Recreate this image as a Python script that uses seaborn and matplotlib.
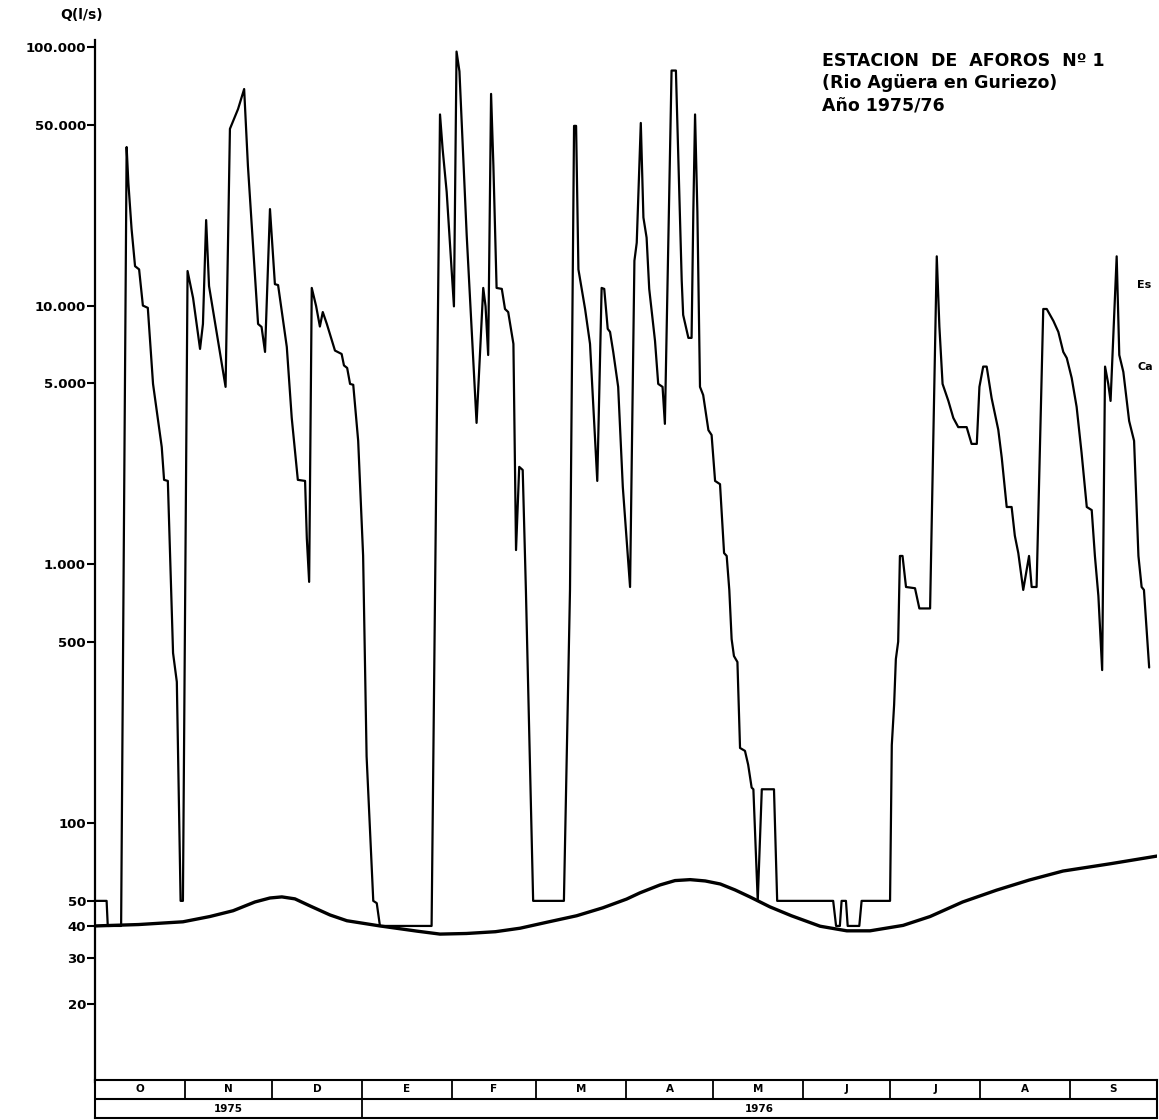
import numpy as np
import pandas as pd
import seaborn as sns
import matplotlib.pyplot as plt

# Daily discharge, hydrological year Oct 1975 - Sep 1976 (day 0 = 1 Oct 1975)
dias = [0, 4.0, 4.4, 9.0, 10.9, 11.5, 12.6, 13.8, 15.2, 16.5,
        18.2, 20.0, 23.0, 23.8, 25.1, 26.9, 28.2, 29.5, 30.3, 31.9,
        33.8, 36.2, 37.2, 38.3, 39.3, 45.0, 46.5, 49.3, 51.4, 52.7,
        56.2, 57.4, 58.6, 60.3, 60.9, 62.0, 63.1, 66.1, 67.8, 69.9,
        72.4, 73.0, 73.8, 74.7, 76.2, 77.5, 78.5, 79.9, 82.7, 85.0,
        85.8, 86.9, 87.9, 89.0, 90.7, 92.4, 93.6, 95.9, 97.1, 98.2,
        116.0, 118.9, 119.8, 121.2, 122.3, 123.7, 124.6, 125.6, 128.1, 131.5,
        133.8, 134.6, 135.5, 136.5, 137.3, 138.4, 140.2, 141.3, 142.4, 144.2,
        145.1, 146.2, 147.4, 148.5, 151.0, 161.6, 163.7, 165.1, 165.8, 166.6,
        168.9, 170.6, 173.1, 174.6, 175.5, 176.7, 177.5, 178.6, 180.3, 181.9,
        184.4, 185.9, 186.7, 188.1, 189.0, 190.1, 191.0, 193.0, 194.1, 195.6,
        196.4, 197.6, 198.7, 200.2, 201.0, 202.2, 202.7, 204.5, 205.6, 206.2,
        206.8, 207.6, 208.5, 209.6, 211.4, 212.5, 213.7, 215.4, 216.8, 217.7,
        218.6, 219.4, 220.2, 221.4, 222.3, 224.0, 225.1, 226.3, 226.9, 228.4,
        229.8, 234.0, 235.1, 254.4, 255.4, 256.7, 257.3, 258.8, 259.4, 263.4,
        264.2, 274.0, 274.6, 275.4, 276.0, 276.8, 277.4, 278.3, 279.5, 282.6,
        284.1, 287.8, 290.1, 291.0, 292.1, 294.1, 295.8, 297.5, 300.4, 302.1,
        303.9, 304.8, 306.1, 307.3, 309.0, 311.3, 312.5, 314.2, 315.9, 317.0,
        318.2, 319.9, 321.9, 322.8, 324.5, 326.8, 328.0, 330.3, 332.0, 333.7,
        334.9, 336.6, 338.3, 340.0, 341.8, 343.5, 344.6, 345.8, 347.1, 348.1,
        349.2, 350.0, 352.1, 353.0, 354.4, 356.4, 358.1, 359.6, 360.7, 361.5,
        363.3]
caudal = [50, 50, 40, 40, 41000, 29800, 19800, 14200, 13800, 10000,
          9800, 4980, 2840, 2120, 2100, 454, 351, 50, 50, 13600,
          10700, 6800, 8490, 21400, 11900, 4850, 48200, 57500, 68700, 34700,
          8490, 8270, 6620, 23600, 18700, 12100, 12000, 6920, 3680, 2120,
          2100, 1260, 855, 11700, 9960, 8300, 9440, 8490, 6700, 6500,
          5870, 5740, 4980, 4940, 3000, 1080, 181, 50, 49, 40,
          40, 54800, 40300, 27500, 17500, 9930, 95900, 80400, 18700, 3520,
          11700, 9930, 6440, 65800, 34700, 11700, 11600, 9700, 9440, 7110,
          1135, 2380, 2315, 796, 50, 50, 796, 49500, 49500, 13800,
          9700, 7110, 2100, 11700, 11600, 8130, 7910, 6620, 4850, 1990,
          817, 14900, 17500, 50800, 21900, 18300, 11600, 7300, 4980, 4850,
          3490, 17800, 81000, 81000, 38300, 12500, 9200, 7500, 7500, 23000,
          54800, 23000, 4850, 4510, 3300, 3160, 2100, 2040, 1105, 1077,
          796, 514, 442, 419, 195, 190, 168, 137, 135, 50,
          135, 135, 50, 50, 40, 40, 50, 50, 40, 40,
          50, 50, 200, 286, 430, 502, 1077, 1077, 817, 808,
          675, 675, 15500, 8300, 4980, 4280, 3680, 3390, 3390, 2920,
          2920, 4850, 5810, 5810, 4390, 3310, 2580, 1665, 1665, 1290,
          1105, 796, 1077, 817, 817, 9700, 9700, 8720, 7910, 6620,
          6270, 5250, 4060, 2700, 1665, 1620, 1077, 754, 390, 5810,
          4980, 4280, 15500, 6440, 5540, 3580, 3000, 1077, 817, 796,
          399]

# Smooth reference curve
dias_curva = [0, 15, 30.3, 39.6, 47.6, 55.1, 60.3, 64.4, 68.9, 74.1, 81.0,
              86.8, 98.2, 110.9, 118.9, 128, 138, 146.5, 156, 166.0, 175,
              183.2, 187.8, 194.7, 199.9, 205.1, 210.3, 215.5, 220.6, 225.7,
              232.6, 240, 249.9, 259.1, 267.1, 278.5, 287.8, 299, 310.7,
              322, 333.6, 350, 366]
q_curva = [40, 40.5, 41.5, 43.5, 45.8, 49.5, 51.3, 51.8, 50.9, 47.8, 44.1,
           41.9, 40, 38.2, 37.2, 37.4, 38.0, 39.2, 41.4, 43.8, 47.0,
           50.8, 53.7, 57.6, 59.9, 60.4, 59.7, 58.1, 55.1, 51.8,
           47.4, 43.8, 39.9, 38.3, 38.3, 40.2, 43.5, 49.5, 55.0,
           60.2, 65.2, 69.6, 74.5]

meses = ["O", "N", "D", "E", "F", "M", "A", "M", "J", "J", "A", "S"]
inicio_mes = [0, 31, 61, 92, 123, 152, 183, 213, 244, 274, 305, 336, 366]
anios = ["1975", "1976"]

y_ticks = [100000, 50000, 10000, 5000, 1000, 500, 100, 50, 40, 30, 20]
y_labels = ["100.000", "50.000", "10.000", "5.000", "1.000", "500", "100",
            "50", "40", "30", "20"]

sns.set_style("white")
plt.rcParams["font.family"] = ["DejaVu Sans"]
plt.rcParams["font.weight"] = "bold"
plt.rcParams["text.color"] = "black"
plt.rcParams["ytick.color"] = "black"
plt.rcParams["ytick.labelcolor"] = "black"

fig = plt.figure(figsize=(11.59, 11.2), dpi=100)
W, H = 1159, 1120

# Main axes
ax = fig.add_axes([95 / W, (H - 1081.7) / H, (1157 - 95) / W, (1081.7 - 40) / H])

df = pd.DataFrame({"dia": dias, "q": caudal})
dfc = pd.DataFrame({"dia": dias_curva, "q": q_curva})

sns.lineplot(data=df, x="dia", y="q", color="black", linewidth=1.6,
             estimator=None, sort=False, ax=ax)
sns.lineplot(data=dfc, x="dia", y="q", color="black", linewidth=2.4,
             estimator=None, sort=False, ax=ax, solid_joinstyle="round")

ax.set_yscale("log")
ax.set_ylim(10, 106300)
ax.set_xlim(0, 366)
ax.set_yticks(y_ticks)
ax.set_yticklabels(y_labels)
ax.yaxis.set_minor_locator(plt.NullLocator())
ax.tick_params(axis="y", direction="out", length=6, width=1.5, pad=0.5,
               labelsize=9.5, left=True, colors="black")
ax.set_xticks([])
ax.set_xlabel("")
ax.set_ylabel("")
for s in ["top", "right", "bottom"]:
    ax.spines[s].set_visible(False)
ax.spines["left"].set_linewidth(1.6)
ax.spines["left"].set_color("black")

# Month / year table below the plot
axt = fig.add_axes([95 / W, (H - 1118) / H, (1157 - 95) / W, 38 / H])
axt.set_xlim(0, 366)
axt.set_ylim(0, 2)
axt.set_xticks([])
axt.set_yticks([])
for s in axt.spines.values():
    s.set_linewidth(1.5)
    s.set_color("black")
axt.axhline(1, color="black", linewidth=1.5)
for b in inicio_mes[1:-1]:
    axt.plot([b, b], [1, 2], color="black", linewidth=1.3)
axt.plot([inicio_mes[3], inicio_mes[3]], [0, 1], color="black", linewidth=1.3)
for i, m in enumerate(meses):
    axt.text((inicio_mes[i] + inicio_mes[i + 1]) / 2, 1.5, m, ha="center",
             va="center", fontsize=7.5, fontweight="bold")
axt.text((inicio_mes[0] + inicio_mes[3]) / 2, 0.5, anios[0], ha="center",
         va="center", fontsize=7.5, fontweight="bold")
axt.text((inicio_mes[3] + inicio_mes[12]) / 2, 0.5, anios[1], ha="center",
         va="center", fontsize=7.5, fontweight="bold")

# Texts
fig.text(60 / W, 1 - 15 / H, "Q(l/s)", ha="left", va="center", fontsize=10,
         fontweight="bold")
fig.text(822 / W, 1 - 52 / H,
         "ESTACION  DE  AFOROS  Nº 1\n(Rio Agüera en Guriezo)\nAño 1975/76",
         ha="left", va="top", fontsize=12.5, fontweight="bold", linespacing=1.3)
fig.text(1137 / W, 1 - 285 / H, "Es", ha="left", va="center",
         fontsize=8, fontweight="bold")
fig.text(1137 / W, 1 - 367 / H, "Ca", ha="left", va="center",
         fontsize=8, fontweight="bold")

plt.savefig("out.png", dpi=100)
